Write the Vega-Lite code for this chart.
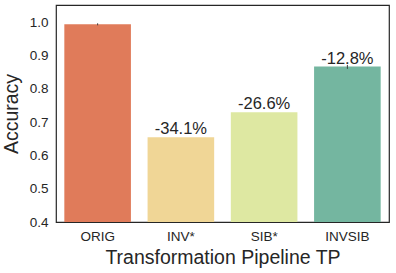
{
  "$schema": "https://vega.github.io/schema/vega-lite/v6.json",
  "width": 333,
  "height": 217,
  "autosize": {"type": "none"},
  "padding": {"left": 56, "top": 5, "right": 7, "bottom": 51},
  "background": "white",
  "config": {
    "font": "Liberation Sans",
    "view": {"stroke": "#262626", "strokeWidth": 1.2},
    "axisY": {"labelOverlap": false}
  },
  "data": {
    "values": [
      {"tp": "ORIG", "acc": 0.994, "lo": 0.991, "hi": 0.997, "label": ""},
      {"tp": "INV*", "acc": 0.655, "lo": 0.655, "hi": 0.655, "label": "-34.1%"},
      {"tp": "SIB*", "acc": 0.730, "lo": 0.730, "hi": 0.730, "label": "-26.6%"},
      {"tp": "INVSIB", "acc": 0.867, "lo": 0.860, "hi": 0.872, "label": "-12.8%"}
    ]
  },
  "encoding": {
    "x": {
      "field": "tp",
      "type": "nominal",
      "sort": null,
      "scale": {"paddingInner": 0.2, "paddingOuter": 0.1},
      "axis": {
        "title": "Transformation Pipeline TP",
        "titleFontSize": 19.5,
        "titleFontWeight": "normal",
        "titleColor": "#262626",
        "titlePadding": 6,
        "labelAngle": 0,
        "labelFontSize": 13.5,
        "labelColor": "#262626",
        "labelPadding": 7,
        "ticks": false,
        "domain": false
      }
    },
    "y": {
      "field": "acc",
      "type": "quantitative",
      "scale": {"domain": [0.4, 1.052], "nice": false, "zero": false},
      "axis": {
        "title": "Accuracy",
        "titleFontSize": 19.5,
        "titleFontWeight": "normal",
        "titleColor": "#262626",
        "titlePadding": 8,
        "values": [0.4, 0.5, 0.6, 0.7, 0.8, 0.9, 1.0],
        "format": ".1f",
        "labelOverlap": false,
        "labelFontSize": 13.5,
        "labelColor": "#262626",
        "labelPadding": 8,
        "ticks": false,
        "domain": false,
        "grid": false
      }
    }
  },
  "layer": [
    {
      "mark": {"type": "bar", "clip": true},
      "encoding": {
        "y2": {"datum": 0.4},
        "color": {
          "field": "tp",
          "type": "nominal",
          "sort": null,
          "scale": {"range": ["#E07B5A", "#F0D696", "#DEE8A2", "#74B6A0"]},
          "legend": null
        }
      }
    },
    {
      "mark": {"type": "rule", "color": "#404040", "strokeWidth": 1},
      "encoding": {
        "y": {
          "field": "lo",
          "type": "quantitative",
          "axis": {
            "title": "Accuracy",
            "titleFontSize": 19.5,
            "titleFontWeight": "normal",
            "titleColor": "#262626",
            "titlePadding": 8,
            "values": [0.4, 0.5, 0.6, 0.7, 0.8, 0.9, 1.0],
            "format": ".1f",
            "labelOverlap": false,
            "labelFontSize": 13.5,
            "labelColor": "#262626",
            "labelPadding": 8,
            "ticks": false,
            "domain": false,
            "grid": false
          }
        },
        "y2": {"field": "hi"}
      }
    },
    {
      "mark": {"type": "text", "baseline": "alphabetic", "dy": -3, "fontSize": 16.5, "color": "#262626"},
      "encoding": {
        "text": {"field": "label"}
      }
    }
  ]
}
